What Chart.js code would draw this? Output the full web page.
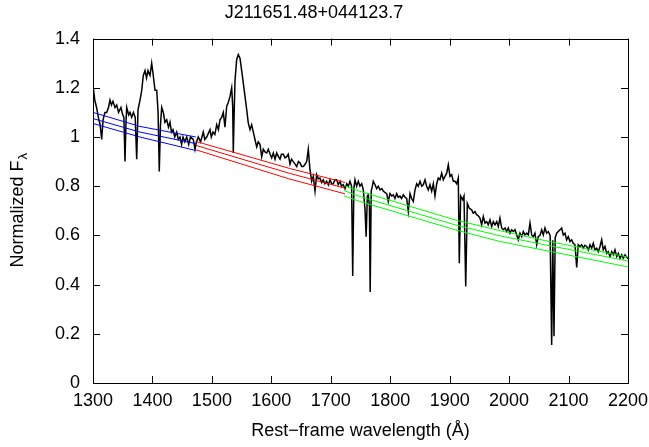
<!DOCTYPE html>
<html>
<head>
<meta charset="utf-8">
<script src="https://cdn.jsdelivr.net/npm/chart.js@4.4.1/dist/chart.umd.min.js"></script>
<style>
  html, body { margin: 0; padding: 0; background: #fff; }
  #chart { display: block; }
</style>
</head>
<body>
<canvas id="chart" width="649" height="447"></canvas>
<script>
// ===== Spectrum =====
const specWave = [
  1300, 1303, 1306, 1309, 1312, 1314.6, 1317, 1320, 1323, 1326, 1328.6, 1331, 1333.6, 1337, 1339.9,
  1343, 1347, 1350, 1352, 1353.8, 1355.5, 1356.7, 1360, 1362.2, 1365.1, 1368, 1371, 1373.5, 1375.7,
  1379.1, 1382, 1384.6, 1387.5, 1390, 1392.5, 1395.9, 1398.7, 1401.4, 1404.3, 1407.2, 1409.5, 1411.5,
  1413.5, 1415.6, 1418.3, 1421, 1424, 1427, 1429.5, 1432, 1434.6, 1437.5, 1440.8, 1443.5, 1446.4,
  1449, 1451.4, 1454.5, 1457.6, 1461, 1464, 1468.7, 1471.6, 1474, 1477.1, 1481, 1485.5, 1488, 1491.3,
  1496.8, 1499, 1501.9, 1505, 1508.1, 1511, 1513.6, 1516.5, 1519.2, 1522, 1524.9, 1527.6, 1530.5,
  1533.3, 1535, 1536, 1537.5, 1538.9, 1541.7, 1544.4, 1547.3, 1550.1, 1552.8, 1555.7, 1558.6, 1561.2,
  1564.1, 1566.9, 1569.7, 1572.5, 1575.4, 1578, 1580.9, 1583.8, 1586.5, 1589, 1592.2, 1594.9, 1598,
  1600.6, 1603.3, 1606.2, 1609, 1612, 1614.6, 1617, 1620.1, 1623, 1625.8, 1628.5, 1631.4, 1634,
  1636.9, 1640, 1642.7, 1645.5, 1648.2, 1651, 1653.8, 1657, 1659.5, 1662.2, 1665, 1667.9, 1670.6,
  1673.5, 1676.3, 1679, 1681.8, 1684.5, 1687.4, 1690, 1693.1, 1696, 1698.7, 1701.5, 1704.2, 1707,
  1709.9, 1712.6, 1715.5, 1718, 1721, 1724, 1726.8, 1729.5, 1732.3, 1735, 1736.9, 1738.8, 1740.7,
  1743.5, 1746.3, 1749, 1752, 1754.7, 1757.6, 1759.5, 1761.5, 1763.1, 1765, 1766.3, 1768, 1770,
  1771.5, 1774.4, 1777.2, 1779.9, 1782.8, 1786, 1788.3, 1791, 1794.1, 1796.7, 1799.6, 1802.5, 1805.2,
  1808, 1810.9, 1813.5, 1816.4, 1819, 1822, 1825, 1827.7, 1830.4, 1833.3, 1836, 1838.8, 1841.7,
  1844.5, 1847.2, 1850.1, 1853, 1855.6, 1858.5, 1861.3, 1864, 1866.9, 1869.7, 1872.5, 1875.3, 1878.2,
  1880.9, 1883.7, 1886.6, 1889.3, 1892.1, 1895, 1897.7, 1900.5, 1903.4, 1906.1, 1909, 1911.8, 1914.5,
  1916.2, 1918.5, 1921.9, 1924.1, 1927, 1929.7, 1933, 1937, 1939.7, 1942.6, 1945.4, 1948, 1951,
  1953.8, 1956.6, 1959.4, 1962.3, 1964.9, 1967.8, 1970.7, 1973.4, 1976.2, 1979.1, 1981.8, 1984.6,
  1987.5, 1990.2, 1993.1, 1995.9, 1998.6, 2001.5, 2004.3, 2007, 2009.9, 2012.8, 2015.4, 2018.3,
  2021.2, 2023.9, 2026.7, 2029.6, 2032.3, 2035.1, 2038, 2040.7, 2043.5, 2046.4, 2049.1, 2051.9,
  2054.8, 2057.5, 2060.3, 2063.2, 2065.9, 2069, 2071.6, 2073.5, 2075.5, 2077.5, 2080, 2082.7, 2085.6,
  2088.4, 2091.1, 2094, 2096.8, 2099.5, 2102.4, 2105.2, 2107.9, 2110.8, 2113.7, 2116.3, 2119.2, 2122,
  2124.8, 2127.5, 2130.5, 2133.2, 2136.1, 2138.9, 2141.6, 2144.5, 2147.3, 2150, 2152.9, 2155.7,
  2158.4, 2161.3, 2164.2, 2166.8, 2169.7, 2172.6, 2175.3, 2178.1, 2181, 2183.7, 2186.5, 2189.4,
  2192.1, 2194.9, 2197, 2200
];
const specFlux = [
  1.21, 1.15, 1.12, 1.08, 1.05, 0.99, 1.07, 1.10, 1.10, 1.12, 1.15, 1.13, 1.145, 1.12, 1.13,
  1.10, 1.12, 1.09, 1.08, 0.90, 1.06, 1.12, 1.09, 1.10, 1.08, 1.10, 1.08, 0.91, 1.11,
  1.15, 1.19, 1.25, 1.27, 1.24, 1.27, 1.25, 1.30, 1.25, 1.19, 1.19, 1.10, 0.86,
  1.05, 1.12, 1.10, 1.06, 1.07, 1.04, 1.06, 1.02, 1.03, 1.00, 1.02, 0.99, 1.00,
  0.97, 1.00, 0.98, 1.00, 0.97, 1.00, 0.99, 0.95, 0.98, 1.00, 0.98, 1.02, 0.99, 1.00,
  1.03, 1.00, 1.02, 1.01, 1.05, 1.03, 1.07, 1.08, 1.10, 1.04, 1.125, 1.14, 1.165,
  1.20, 1.125, 0.935, 1.10, 1.23, 1.315, 1.335, 1.32, 1.27, 1.22, 1.165, 1.11, 1.057,
  1.03, 1.05, 1.02, 0.99, 0.96, 0.98, 0.97, 0.92, 0.95, 0.94, 0.935, 0.95, 0.93,
  0.915, 0.935, 0.91, 0.935, 0.92, 0.91, 0.93, 0.93, 0.915, 0.92, 0.93, 0.89, 0.91,
  0.90, 0.89, 0.88, 0.90, 0.895, 0.88, 0.88, 0.89, 0.90, 0.95, 0.867, 0.82, 0.84,
  0.78, 0.847, 0.83, 0.833, 0.815, 0.826, 0.81, 0.82, 0.805, 0.826, 0.81, 0.81, 0.825,
  0.826, 0.806, 0.82, 0.80, 0.806, 0.79, 0.81, 0.80, 0.82, 0.80, 0.435, 0.79, 0.826,
  0.80, 0.82, 0.80, 0.81, 0.785, 0.704, 0.595, 0.76, 0.765, 0.72, 0.37, 0.78, 0.80,
  0.82, 0.806, 0.79, 0.80, 0.785, 0.79, 0.78, 0.775, 0.77, 0.738, 0.77, 0.76, 0.765,
  0.75, 0.77, 0.755, 0.76, 0.75, 0.765, 0.755, 0.75, 0.697, 0.77, 0.75, 0.738, 0.785,
  0.81, 0.80, 0.82, 0.80, 0.806, 0.826, 0.80, 0.785, 0.806, 0.78, 0.81, 0.76, 0.81,
  0.833, 0.826, 0.853, 0.826, 0.84, 0.853, 0.887, 0.84, 0.847, 0.82, 0.82, 0.81, 0.833,
  0.487, 0.76, 0.745, 0.76, 0.392, 0.73, 0.71, 0.704, 0.69, 0.697, 0.684, 0.68, 0.67,
  0.643, 0.677, 0.65, 0.656, 0.643, 0.663, 0.636, 0.656, 0.643, 0.656, 0.636, 0.67,
  0.63, 0.623, 0.63, 0.616, 0.63, 0.609, 0.623, 0.616, 0.623, 0.602, 0.582, 0.609,
  0.595, 0.616, 0.602, 0.609, 0.602, 0.65, 0.602, 0.595, 0.609, 0.562, 0.595, 0.60,
  0.623, 0.602, 0.63, 0.609, 0.616, 0.60, 0.155, 0.58, 0.19, 0.59, 0.609, 0.616, 0.623,
  0.63, 0.602, 0.609, 0.582, 0.595, 0.575, 0.582, 0.568, 0.562, 0.47, 0.562, 0.555, 0.562,
  0.548, 0.56, 0.555, 0.541, 0.562, 0.548, 0.568, 0.541, 0.548, 0.534, 0.555, 0.582,
  0.541, 0.555, 0.527, 0.534, 0.514, 0.534, 0.521, 0.541, 0.514, 0.527, 0.507, 0.521,
  0.507, 0.521, 0.514, 0.505
];

// ===== Power-law continuum fits (upper / best / lower) =====
const blueWave = [1300, 1379, 1473];
const blueHi   = [1.10, 1.043, 1.00];
const blueMid  = [1.075, 1.02, 0.973];
const blueLo   = [1.055, 1.00, 0.945];

const redWave = [1473, 1631, 1724];
const redHi   = [0.982, 0.872, 0.815];
const redMid  = [0.966, 0.852, 0.792];
const redLo   = [0.948, 0.829, 0.769];

const greenWave = [1722, 1749, 1909, 1985, 2060, 2200];
const greenHi   = [0.803, 0.779, 0.663, 0.619, 0.579, 0.512];
const greenMid  = [0.783, 0.758, 0.643, 0.598, 0.562, 0.496];
const greenLo   = [0.761, 0.738, 0.623, 0.575, 0.539, 0.472];

// ===== Axes =====
const xTicks = [1300, 1400, 1500, 1600, 1700, 1800, 1900, 2000, 2100, 2200];
const xTickLabels = ['1300', '1400', '1500', '1600', '1700', '1800', '1900', '2000', '2100', '2200'];
const yTicks = [0, 0.2, 0.4, 0.6, 0.8, 1, 1.2, 1.4];
const yTickLabels = ['0', '0.2', '0.4', '0.6', '0.8', '1', '1.2', '1.4'];

const FONT = "'Liberation Sans', Arial, sans-serif";
Chart.defaults.font.family = FONT;
Chart.defaults.color = '#000';

function pts(xs, ys) {
  return xs.map((x, i) => ({ x: x, y: ys[i] }));
}
function fitSet(xs, ys, colour) {
  return { data: pts(xs, ys), borderColor: colour, borderWidth: 1, pointRadius: 0, tension: 0 };
}

// frame with inward ticks on all four sides, plus y title with subscript
const framePlugin = {
  id: 'frame',
  afterDraw(chart) {
    const { ctx, chartArea: a, scales } = chart;
    const len = 7;
    ctx.save();
    ctx.strokeStyle = '#000';
    ctx.lineWidth = 1;
    ctx.beginPath();
    xTicks.forEach(v => {
      const px = Math.round(scales.x.getPixelForValue(v)) + 0.5;
      ctx.moveTo(px, a.bottom); ctx.lineTo(px, a.bottom - len);
      ctx.moveTo(px, a.top); ctx.lineTo(px, a.top + len);
    });
    yTicks.forEach(v => {
      const py = Math.round(scales.y.getPixelForValue(v)) + 0.5;
      ctx.moveTo(a.left, py); ctx.lineTo(a.left + len, py);
      ctx.moveTo(a.right, py); ctx.lineTo(a.right - len, py);
    });
    ctx.stroke();
    ctx.strokeRect(Math.round(a.left) + 0.5, Math.round(a.top) + 0.5,
                   Math.round(a.right - a.left), Math.round(a.bottom - a.top));

    // y axis title: Normalized F_lambda
    const main = 'Normalized F';
    ctx.translate(18, (a.top + a.bottom) / 2);
    ctx.rotate(-Math.PI / 2);
    ctx.fillStyle = '#000';
    ctx.textBaseline = 'middle';
    ctx.font = '18px ' + FONT;
    const w1 = ctx.measureText(main).width;
    ctx.font = '13px ' + FONT;
    const w2 = ctx.measureText('λ').width;
    const x0 = -(w1 + w2) / 2;
    ctx.font = '18px ' + FONT;
    ctx.textAlign = 'left';
    ctx.fillText(main, x0, 0);
    ctx.font = '13px ' + FONT;
    ctx.fillText('λ', x0 + w1 + 1, 5);
    ctx.restore();
  }
};

new Chart(document.getElementById('chart'), {
  type: 'line',
  data: {
    datasets: [
      fitSet(blueWave, blueHi, '#0000ff'),
      fitSet(blueWave, blueMid, '#0000ff'),
      fitSet(blueWave, blueLo, '#0000ff'),
      fitSet(redWave, redHi, '#ff0000'),
      fitSet(redWave, redMid, '#ff0000'),
      fitSet(redWave, redLo, '#ff0000'),
      fitSet(greenWave, greenHi, '#00ff00'),
      fitSet(greenWave, greenMid, '#00ff00'),
      fitSet(greenWave, greenLo, '#00ff00'),
      { data: pts(specWave, specFlux), borderColor: '#000', borderWidth: 1.5, pointRadius: 0, tension: 0 }
    ]
  },
  options: {
    responsive: false,
    animation: false,
    devicePixelRatio: 1,
    layout: { padding: { left: 0, right: 21, top: 0, bottom: 0 } },
    plugins: {
      legend: { display: false },
      tooltip: { enabled: false },
      title: {
        display: true,
        text: 'J211651.48+044123.7',
        color: '#000',
        font: { size: 18, weight: 'normal' },
        padding: { top: 2, bottom: 15 }
      }
    },
    scales: {
      x: {
        type: 'linear',
        min: 1300, max: 2200,
        grid: { display: false, drawTicks: false, tickLength: 0 },
        border: { display: false },
        afterFit: s => { s.height = 64; s.paddingRight = 0; s.paddingLeft = 0; },
        afterBuildTicks: s => { s.ticks = xTicks.map(v => ({ value: v })); },
        ticks: {
          font: { size: 18 },
          padding: 7,
          maxRotation: 0,
          callback: v => xTickLabels[xTicks.indexOf(v)]
        },
        title: {
          display: true,
          text: 'Rest\u2212frame wavelength (\u00c5)',
          font: { size: 18 },
          padding: { top: 2, bottom: 5 }
        }
      },
      y: {
        min: 0, max: 1.4,
        grid: { display: false, drawTicks: false, tickLength: 0 },
        border: { display: false },
        afterFit: s => { s.width = 93; s.paddingTop = 0; s.paddingBottom = 0; },
        afterBuildTicks: s => { s.ticks = yTicks.map(v => ({ value: v })); },
        ticks: {
          font: { size: 18 },
          padding: 13,
          callback: v => yTickLabels[yTicks.indexOf(v)]
        }
      }
    }
  },
  plugins: [framePlugin]
});
</script>
</body>
</html>
